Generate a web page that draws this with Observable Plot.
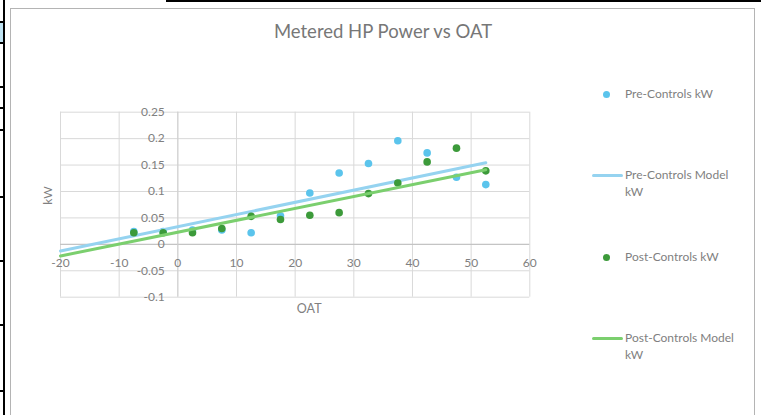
<!DOCTYPE html>
<html>
<head>
<meta charset="utf-8">
<script src="https://cdn.jsdelivr.net/npm/d3@7"></script>
<script src="https://cdn.jsdelivr.net/npm/@observablehq/plot@0.6"></script>
<style>
  html, body { margin: 0; padding: 0; background: #fff; }
  #wrap { position: relative; width: 761px; height: 415px; overflow: hidden; font-family: Lato, "Open Sans", sans-serif; }
  .abs { position: absolute; }
  #frame { left: 10px; top: 8px; width: 745px; height: 420px; border: 1.5px solid #b4b4b4; box-sizing: border-box; }
  #title { left: 10px; top: 20px; width: 746px; text-align: center; font-size: 18.5px; color: #777; line-height: 22px; }
  .leg { font-size: 12px; color: #7f7f7f; line-height: 16.5px; white-space: nowrap; }
  #plot { left: 0; top: 0; }
</style>
</head>
<body>
<div id="wrap">
  <div class="abs" style="left:166px;top:0;width:595px;height:2px;background:#000"></div>
  <div class="abs" style="left:0;top:22px;width:3px;height:21px;background:#bfe3f3"></div>
  <div class="abs" style="left:3px;top:0;width:1.5px;height:415px;background:#000"></div>
  <div id="frame" class="abs"></div>
  <div id="title" class="abs"></div>
  <div id="plot" class="abs"></div>
  <div id="legend" class="abs" style="left:0;top:0"></div>
</div>
<script>
// ---- data ----
const chartTitle = "Metered HP Power vs OAT";
const xLabel = "OAT";
const yLabel = "kW";
const oat = [-7.5, -2.5, 2.5, 7.5, 12.5, 17.5, 22.5, 27.5, 32.5, 37.5, 42.5, 47.5, 52.5];
const preKW = [0.024, 0.024, 0.027, 0.027, 0.022, 0.054, 0.097, 0.135, 0.153, 0.196, 0.173, 0.127, 0.113];
const postKW = [0.022, 0.022, 0.022, 0.030, 0.053, 0.047, 0.055, 0.060, 0.096, 0.116, 0.156, 0.182, 0.139];
const modelOAT = [-20, 52.5];
const preModelKW = [-0.0127, 0.1544];
const postModelKW = [-0.022, 0.141];
const xTicks = [-20, -10, 0, 10, 20, 30, 40, 50, 60];
const yTicks = [-0.1, -0.05, 0, 0.05, 0.1, 0.15, 0.2, 0.25];
const seriesNames = ["Pre-Controls kW", "Pre-Controls Model kW", "Post-Controls kW", "Post-Controls Model kW"];
const seriesColors = ["#5bc4ec", "#95d3f0", "#3c9a3a", "#7bcf6e"];

// ---- build tables ----
const prePts = oat.map((x, i) => ({x, y: preKW[i]}));
const postPts = oat.map((x, i) => ({x, y: postKW[i]}));
const preLine = modelOAT.map((x, i) => ({x, y: preModelKW[i]}));
const postLine = modelOAT.map((x, i) => ({x, y: postModelKW[i]}));

const gridColor = "#d9d9d9";
const textColor = "#808080";

const chart = Plot.plot({
  width: 761,
  height: 415,
  marginLeft: 60,
  marginRight: 231.7,
  marginTop: 111.7,
  marginBottom: 118.3,
  x: {domain: [-20, 60], axis: null},
  y: {domain: [-0.1, 0.25], axis: null},
  style: {background: "transparent", fontFamily: "Lato, 'Open Sans', sans-serif", fontSize: "12px", color: textColor},
  marks: [
    Plot.ruleX(xTicks, {stroke: gridColor, strokeWidth: 1}),
    Plot.ruleY(yTicks, {stroke: gridColor, strokeWidth: 1}),
    Plot.ruleY([0], {stroke: "#bfbfbf", strokeWidth: 1}),
    Plot.ruleX([0], {stroke: "#cfcfcf", strokeWidth: 1}),
    Plot.text(xTicks, {x: d => d, y: 0, dy: 19, text: d => String(d), fill: textColor, fontSize: 12}),
    Plot.text(yTicks, {x: 0, y: d => d, dx: -13, textAnchor: "end", text: d => String(d), fill: textColor, fontSize: 12}),
    Plot.text([yLabel], {frameAnchor: "left", dx: -12, rotate: -90, text: d => d, fill: textColor, fontSize: 12}),
    Plot.text([xLabel], {frameAnchor: "bottom", dx: 14, dy: 16, text: d => d, fill: textColor, fontSize: 12.5}),
    Plot.dot(prePts, {x: "x", y: "y", r: 3.8, fill: seriesColors[0], stroke: "none"}),
    Plot.line(preLine, {x: "x", y: "y", stroke: seriesColors[1], strokeWidth: 3}),
    Plot.dot(postPts, {x: "x", y: "y", r: 3.8, fill: seriesColors[2], stroke: "none"}),
    Plot.line(postLine, {x: "x", y: "y", stroke: seriesColors[3], strokeWidth: 3})
  ]
});
document.getElementById("plot").appendChild(chart);
document.getElementById("title").textContent = chartTitle;

// ---- legend (HTML) ----
const legendTops = [94.3, 175.7, 257.3, 338.3];
const legend = d3.select("#legend");
seriesNames.forEach((name, i) => {
  const isLine = i % 2 === 1;
  const cy = legendTops[i];
  if (isLine) {
    legend.append("div").attr("class", "abs")
      .style("left", "592px").style("top", (cy - 1.5) + "px")
      .style("width", "31px").style("height", "3px")
      .style("border-radius", "1.5px")
      .style("background", seriesColors[i]);
  } else {
    legend.append("div").attr("class", "abs")
      .style("left", (606.7 - 3.5) + "px").style("top", (cy - 3.5) + "px")
      .style("width", "7px").style("height", "7px")
      .style("border-radius", "50%")
      .style("background", seriesColors[i]);
  }
  const words = name.split(" ");
  const lines = isLine ? [words.slice(0, -1).join(" "), words[words.length - 1]] : [name];
  const t = legend.append("div").attr("class", "abs leg")
    .style("left", "625px").style("top", (cy - 8.25) + "px");
  lines.forEach(l => t.append("div").text(l));
});

// left-side spreadsheet cell borders
[22, 43, 87, 108, 130, 197, 261, 325, 391].forEach(y => {
  d3.select("#wrap").append("div").attr("class", "abs")
    .style("left", "0px").style("top", (y - 0.75) + "px")
    .style("width", "4px").style("height", "1.5px").style("background", "#000");
});
</script>
</body>
</html>
